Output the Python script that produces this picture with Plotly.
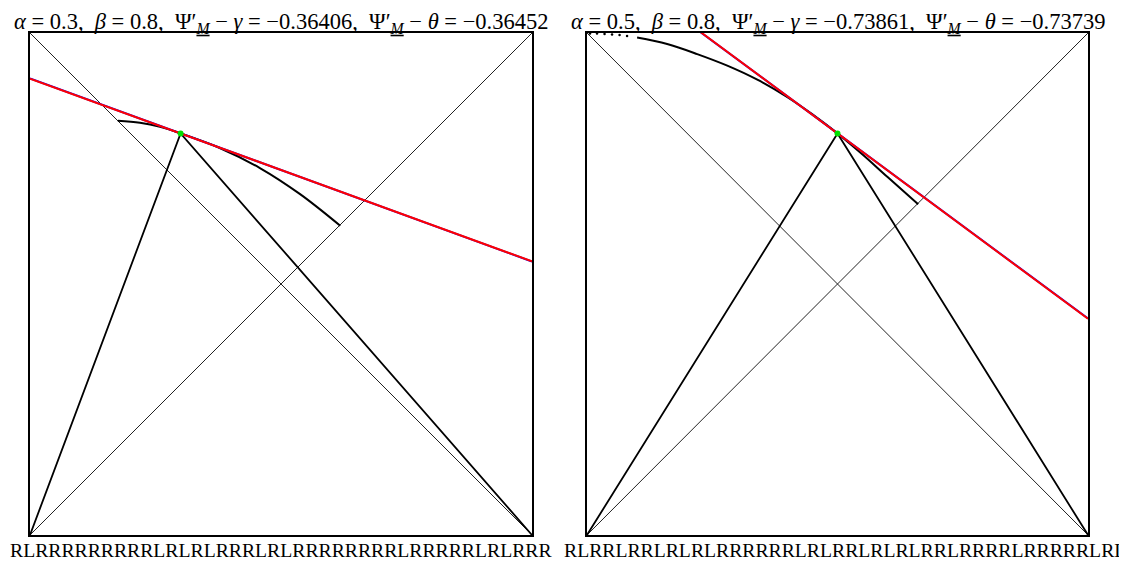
import plotly.graph_objects as go

# the page puts the figure 8px in from the top-left corner
OFF = 8
W, H = 1127 - OFF, 563 - OFF

# parameters of the two panels
alphas = [0.3, 0.5]
betas = [0.8, 0.8]
slope_gamma = [-0.36406, -0.73861]
slope_theta = [-0.36452, -0.73739]

# black arcs (data coords)
arc_left_x = [0.175, 0.219, 0.259, 0.3, 0.378, 0.458, 0.538, 0.618]
arc_left_y = [0.825, 0.821, 0.813, 0.8, 0.771, 0.731, 0.679, 0.616]
arc_right_x = [0.10, 0.16, 0.22, 0.28, 0.34, 0.40, 0.45, 0.5, 0.55, 0.60, 0.661]
arc_right_y = [0.991, 0.978, 0.958, 0.935, 0.907, 0.872, 0.838, 0.8, 0.758, 0.713, 0.659]
arc_right_dots_x = [0.006, 0.02, 0.035, 0.05, 0.065, 0.08]
arc_right_dots_y = [0.999, 0.999, 0.998, 0.997, 0.996, 0.994]
arcs = [(arc_left_x, arc_left_y), (arc_right_x, arc_right_y)]

words = [
    "RLRRRRRRRRRLRLRLRRRLRLRRRRRRRRLRRRRRLRLRRR",
    "RLRRLRRLRLRLRRRRRRLRLRRLRLRLRRLRRRRLRRRRRLRL",
]

NB = "\u00a0"
def title(a, b, g, t):
    psi = "Ψ′<sub><u><i>M</i></u></sub>"
    return (f"<i>α</i> = {a},{NB}{NB}<i>β</i> = {b},{NB}{NB}{psi} − <i>γ</i> = −{abs(g):.5f},"
            f"{NB}{NB}{psi} − <i>θ</i> = −{abs(t):.5f}")

fig = go.Figure()

# panel boxes in screen pixels
boxes = [(30, 532), (587, 1088)]
top, bot = 33, 535

for i in range(2):
    xa = "x" if i == 0 else "x2"
    ya = "y" if i == 0 else "y2"
    a, b = alphas[i], betas[i]
    # diagonals
    fig.add_trace(go.Scatter(x=[0, 1], y=[0, 1], mode="lines", line=dict(color="#222", width=1),
                             xaxis=xa, yaxis=ya, showlegend=False, hoverinfo="skip"))
    fig.add_trace(go.Scatter(x=[0, 1], y=[1, 0], mode="lines", line=dict(color="#222", width=1),
                             xaxis=xa, yaxis=ya, showlegend=False, hoverinfo="skip"))
    # tent map
    fig.add_trace(go.Scatter(x=[0, a, 1], y=[0, b, 0], mode="lines", line=dict(color="black", width=1.8),
                             xaxis=xa, yaxis=ya, showlegend=False))
    # arc
    ax_, ay_ = arcs[i]
    fig.add_trace(go.Scatter(x=ax_, y=ay_, mode="lines", line=dict(color="black", width=2, shape="spline"),
                             xaxis=xa, yaxis=ya, showlegend=False))
    if i == 1:
        fig.add_trace(go.Scatter(x=arc_right_dots_x, y=arc_right_dots_y, mode="markers",
                                 marker=dict(color="black", size=2.5),
                                 xaxis=xa, yaxis=ya, showlegend=False))
    # tangent lines
    fig.add_trace(go.Scatter(x=[0, 1], y=[b - slope_theta[i] * a, b + slope_theta[i] * (1 - a)],
                             mode="lines", line=dict(color="blue", width=2),
                             xaxis=xa, yaxis=ya, showlegend=False))
    fig.add_trace(go.Scatter(x=[0, 1], y=[b - slope_gamma[i] * a, b + slope_gamma[i] * (1 - a)],
                             mode="lines", line=dict(color="red", width=2),
                             xaxis=xa, yaxis=ya, showlegend=False))
    # apex point
    fig.add_trace(go.Scatter(x=[a], y=[b], mode="markers", marker=dict(color="#00e000", size=6),
                             xaxis=xa, yaxis=ya, showlegend=False))

axis_style = dict(range=[0, 1], showgrid=False, zeroline=False, showticklabels=False, ticks="",
                  showline=True, linecolor="black", linewidth=2, mirror=True, fixedrange=True)
ydom = [1 - (bot - OFF) / H, 1 - (top - OFF) / H]
fig.update_layout(
    width=W, height=H,
    margin=dict(l=0, r=0, t=0, b=0),
    paper_bgcolor="white", plot_bgcolor="white",
    xaxis=dict(domain=[(boxes[0][0] - OFF) / W, (boxes[0][1] - OFF) / W], anchor="y", **axis_style),
    yaxis=dict(domain=ydom, anchor="x", **axis_style),
    xaxis2=dict(domain=[(boxes[1][0] - OFF) / W, (boxes[1][1] - OFF) / W], anchor="y2", **axis_style),
    yaxis2=dict(domain=ydom, anchor="x2", **axis_style),
)

for i in range(2):
    cx = ((boxes[i][0] + boxes[i][1]) / 2 - OFF) / W
    fig.add_annotation(x=cx, y=1, xref="paper", yref="paper", showarrow=False,
                       text=title(alphas[i], betas[i], slope_gamma[i], slope_theta[i]),
                       font=dict(family="Liberation Serif", size=22.5, color="black"),
                       xanchor="center", yanchor="top", borderpad=0)
    fig.add_annotation(x=((OFF if i == 0 else 562) - OFF) / W, y=0,
                       xref="paper", yref="paper", showarrow=False, text=words[i],
                       xanchor="left", yanchor="bottom",
                       font=dict(family="Liberation Serif", size=19.7, color="black"))

fig.write_html("out.html")
